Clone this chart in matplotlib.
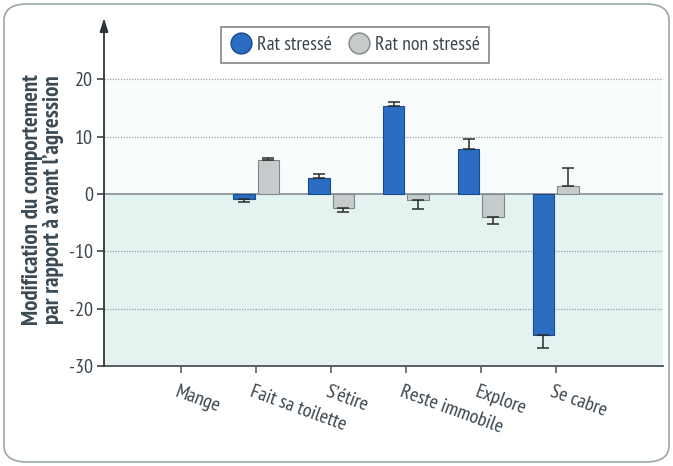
import matplotlib
matplotlib.use("Agg")
import matplotlib.pyplot as plt
from matplotlib.lines import Line2D
from matplotlib.patches import FancyBboxPatch, Rectangle
from matplotlib.transforms import ScaledTranslation
from matplotlib import font_manager
import numpy as np

categories = ["Mange", "Fait sa toilette", "S’étire", "Reste immobile", "Explore", "Se cabre"]
stressed = [0.0, -0.9, 2.8, 15.4, 7.9, -24.6]
stressed_err = [0.0, 0.5, 0.7, 0.7, 1.7, 2.3]
unstressed = [0.0, 5.9, -2.4, -1.1, -4.0, 1.4]
unstressed_err = [0.0, 0.3, 0.7, 1.6, 1.3, 3.1]
yticks = [-30, -20, -10, 0, 10, 20]
series_names = ["Rat stressé", "Rat non stressé"]

names = {f.name for f in font_manager.fontManager.ttflist}
prefs = ["PT Sans Narrow", "Fira Sans Condensed", "Open Sans Condensed",
         "Roboto Condensed", "Encode Sans Condensed", "Asap Condensed",
         "Liberation Sans Narrow", "DejaVu Sans"]
fam = [n for n in prefs if n in names]
chosen = fam[0]
plt.rcParams['font.family'] = [chosen, "DejaVu Sans"]

txt = "#3a4650"
blue = "#2a6dc2"
blue_edge = "#1b4a8c"
grey = "#c6cbcc"
grey_edge = "#7f8789"

fig = plt.figure(figsize=(6.73, 4.66), dpi=100)
fig.patch.set_facecolor("white")
border = FancyBboxPatch((4/673, 4/466), 665/673, 458/466,
                        boxstyle="round,pad=0,rounding_size=0.035",
                        transform=fig.transFigure, facecolor="white",
                        edgecolor="#9aa6ab", lw=1.2, zorder=-10)
fig.patches.append(border)

ax = fig.add_axes([104/673, 1-366/466, (663-104)/673, (366-18)/466])
ax.set_facecolor("none")
ymin, ymax = -30, 30.7
xmin, xmax = -1.03, 6.43
ax.set_xlim(xmin, xmax)
ax.set_ylim(ymin, ymax)

ax.add_patch(Rectangle((xmin, ymin), xmax - xmin, 0 - ymin, facecolor="#e4f2f0",
                       edgecolor="none", zorder=0))
ax.add_patch(Rectangle((xmin, 0), xmax - xmin, 20.3, facecolor="#f9fcfc",
                       edgecolor="none", zorder=0))

for v in yticks:
    if v not in (0, -30):
        ax.axhline(v, color="#9aa3a6", lw=0.9, ls=(0, (1, 1.2)), zorder=1)
ax.axhline(0, color="#8c979b", lw=1.3, zorder=1)

x = np.arange(len(categories))
w = 0.29
off = 0.165

def asym(vals, errs):
    lo = [e if v < 0 else 0 for v, e in zip(vals, errs)]
    hi = [e if v >= 0 else 0 for v, e in zip(vals, errs)]
    return [lo, hi]

sx = [xi - off for xi, v in zip(x, stressed) if v != 0]
sv = [v for v in stressed if v != 0]
se = [e for v, e in zip(stressed, stressed_err) if v != 0]
ux = [xi + off for xi, v in zip(x, unstressed) if v != 0]
uv = [v for v in unstressed if v != 0]
ue = [e for v, e in zip(unstressed, unstressed_err) if v != 0]

ax.bar(sx, sv, w, color=blue, edgecolor=blue_edge, lw=0.8, zorder=3)
ax.bar(ux, uv, w, color=grey, edgecolor=grey_edge, lw=0.8, zorder=3)
ax.errorbar(sx, sv, yerr=asym(sv, se), fmt="none", ecolor="#2b2b2b",
            elinewidth=1.1, capsize=4.5, capthick=1.1, zorder=4)
ax.errorbar(ux, uv, yerr=asym(uv, ue), fmt="none", ecolor="#2b2b2b",
            elinewidth=1.1, capsize=4.5, capthick=1.1, zorder=4)

for s in ["top", "right", "left"]:
    ax.spines[s].set_visible(False)
ax.spines["bottom"].set_color("#4a5256")
ax.spines["bottom"].set_linewidth(1.3)

ax.annotate("", xy=(xmin, ymax), xytext=(xmin, ymin), xycoords="data",
            arrowprops=dict(arrowstyle="-|>,head_length=0.8,head_width=0.25",
                            color="#2f3538", lw=1.3, shrinkA=0, shrinkB=0),
            annotation_clip=False, zorder=5)

ax.set_yticks(yticks)
ax.set_yticklabels([f"{v}" if v >= 0 else f"-{abs(v)}" for v in yticks])
ax.tick_params(axis="y", length=5, width=1.1, color="#2f3538", direction="out",
               labelsize=14.5, labelcolor=txt, pad=3)
ax.set_xticks(x)
ax.set_xticklabels(categories, rotation=-20, ha="left", va="top",
                   rotation_mode="anchor")
ax.tick_params(axis="x", length=5, width=1.1, color="#4a5256", direction="out",
               labelsize=14.5, labelcolor=txt, pad=7)
for lab in ax.get_xticklabels():
    lab.set_transform(lab.get_transform() + ScaledTranslation(-2/100, 0, fig.dpi_scale_trans))

fig.text(43/673, 1-200/466, "Modification du comportement\npar rapport à avant l’agression",
         rotation=90, ha="center", va="center", fontsize=16.5, fontweight="bold",
         color="#3b4954", linespacing=0.95)

handles = [Line2D([], [], ls="none", marker="o", markersize=15, markerfacecolor=blue,
                  markeredgecolor=blue_edge, markeredgewidth=1),
           Line2D([], [], ls="none", marker="o", markersize=15, markerfacecolor=grey,
                  markeredgecolor=grey_edge, markeredgewidth=1)]
leg = fig.legend(handles, series_names, loc="center", bbox_to_anchor=(355/673, 1-45/466),
                 ncol=2, frameon=True, fancybox=False, fontsize=14.3,
                 handletextpad=0.25, columnspacing=0.8, borderpad=0.45,
                 handlelength=1.1, labelcolor=txt)
leg.get_frame().set_edgecolor("#555b5e")
leg.get_frame().set_linewidth(1.1)

fig.savefig("out.png", dpi=100)
